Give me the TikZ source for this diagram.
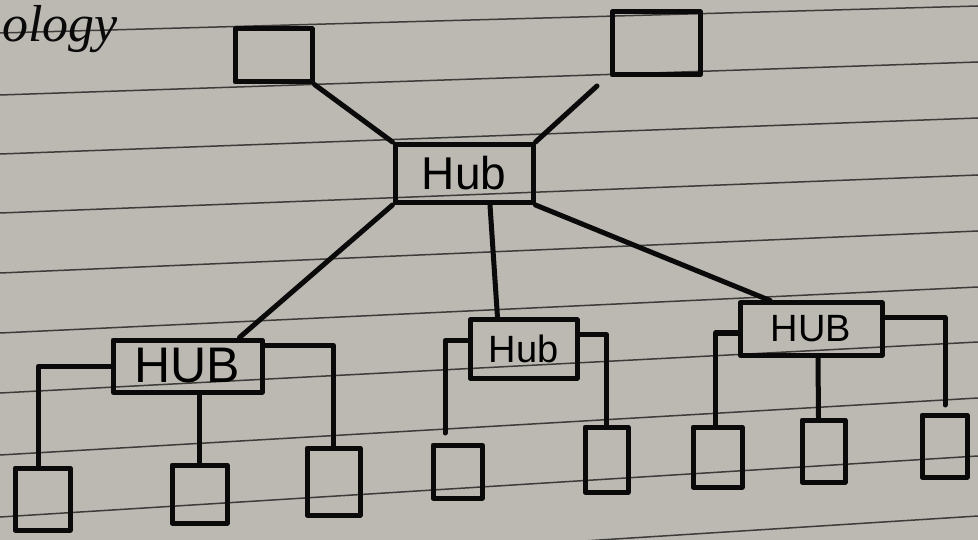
\documentclass[tikz,border=0pt]{standalone}
\usepackage{fontspec}
\setmainfont{Liberation Serif}
\newfontfamily\hubfont{Liberation Sans}
\usetikzlibrary{calc}
\definecolor{paper}{HTML}{BCB8B2}
\definecolor{rule}{HTML}{3E3C3A}
\definecolor{ink}{HTML}{0A0A0A}
\begin{document}
\begin{tikzpicture}[x=1pt,y=-1pt,
  ink/.style={draw=ink,line width=5pt,line cap=round,line join=round},
  boxnode/.style={ink,rectangle,inner sep=0pt,fill=none},
  hubnode/.style={boxnode,font=\hubfont},
  ruled/.style={draw=rule,line width=1.5pt}]
\useasboundingbox (0,0) rectangle (978,540);
\fill[paper] (0,0) rectangle (978,540);
% ruled lines of the paper
\foreach \l/\r in {33/6,95/62,154/118,213/175,273/231,333/287,393/342,455/398,517/456,578/516}{
  \draw[ruled] (0,\l) -- (978,\r);
}
% title fragment
\node[anchor=base west,inner sep=0pt,font=\itshape\fontsize{52}{52}\selectfont,text=ink] (title) at (2,42) {ology};
% top boxes and hub
\node[boxnode,minimum width=77pt,minimum height=53pt] (tl) at (273.5,55.5) {};
\node[boxnode,minimum width=88pt,minimum height=63pt] (tr) at (656,43.5) {};
\node[hubnode,minimum width=138pt,minimum height=58pt,font=\hubfont\fontsize{46}{46}\selectfont] (hub) at (464,173.5) {Hub};
% second level hubs
\node[hubnode,minimum width=149pt,minimum height=52pt,font=\hubfont\fontsize{50}{50}\selectfont] (hubL) at (187.5,366) {HUB};
\node[hubnode,minimum width=107pt,minimum height=58pt,font=\hubfont\fontsize{38}{38}\selectfont] (hubM) at (523.5,349) {Hub};
\node[hubnode,minimum width=142pt,minimum height=52pt,font=\hubfont\fontsize{38}{38}\selectfont] (hubR) at (811,329) {HUB};
% leaves
\node[boxnode,minimum width=55pt,minimum height=62pt] (L1) at (42.5,499) {};
\node[boxnode,minimum width=55pt,minimum height=58pt] (L2) at (199.5,494) {};
\node[boxnode,minimum width=53pt,minimum height=67pt] (L3) at (333.5,481.5) {};
\node[boxnode,minimum width=49pt,minimum height=53pt] (M1) at (457.5,471.5) {};
\node[boxnode,minimum width=43pt,minimum height=65pt] (M2) at (606.5,459.5) {};
\node[boxnode,minimum width=49pt,minimum height=60pt] (R1) at (717.5,457) {};
\node[boxnode,minimum width=43pt,minimum height=62pt] (R2) at (823.5,451) {};
\node[boxnode,minimum width=45pt,minimum height=62pt] (R3) at (944.5,446) {};
% free ends
\coordinate (trend) at (597,86);
\coordinate (m1end) at (445,433);
\coordinate (r3end) at (945,405);
% connectors
\draw[ink] (tl.south east) -- (hub.north west);
\draw[ink] (trend) -- (hub.north east);
\draw[ink] (hub.south west) -- ($(hubL.north)+(52,0)$);
\draw[ink] ($(hub.south)+(26,0)$) -- ($(hubM.north)+(-26,0)$);
\draw[ink] (hub.south east) -- ($(hubR.north)+(-41,0)$);
\draw[ink] (hubL.west) -| ($(L1.north)+(-4,0)$);
\draw[ink] ($(hubL.south)+(12,0)$) -- (L2.north);
\draw[ink] ($(hubL.north east)+(0,8)$) -| (L3.north);
\draw[ink] ($(hubM.north west)+(0,23)$) -| (m1end);
\draw[ink] ($(hubM.north east)+(0,17)$) -| (M2.north);
\draw[ink] ($(hubR.west)+(0,4)$) -| ($(R1.north)+(-2,0)$);
\draw[ink] ($(hubR.south)+(7,0)$) -- ($(R2.north)+(-5,0)$);
\draw[ink] ($(hubR.north east)+(0,17)$) -| (r3end);
\end{tikzpicture}
\end{document}
